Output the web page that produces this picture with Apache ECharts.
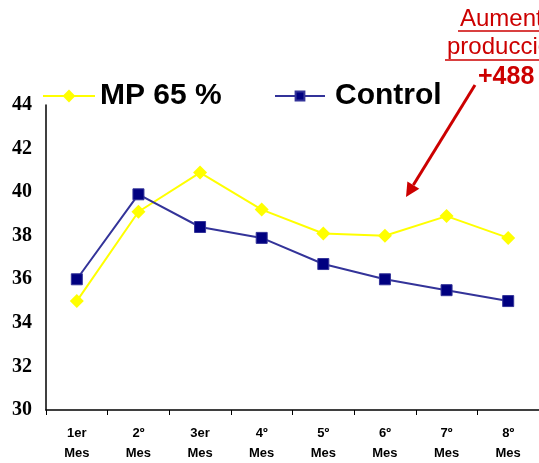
<!DOCTYPE html>
<html><head><meta charset="utf-8">
<script src="https://cdn.jsdelivr.net/npm/echarts@6/dist/echarts.min.js"></script>
<style>html,body{margin:0;padding:0;background:#fff}#c{width:539px;height:463px}</style>
</head><body><div id="c"></div>
<script>
const categories = ['1er\nMes','2º\nMes','3er\nMes','4º\nMes','5º\nMes','6º\nMes','7º\nMes','8º\nMes'];
const mp65 = [35.0, 39.1, 40.9, 39.2, 38.1, 38.0, 38.9, 37.9];
const control = [36.0, 39.9, 38.4, 37.9, 36.7, 36.0, 35.5, 35.0];
const yTicks = [30, 32, 34, 36, 38, 40, 42, 44];

const chart = echarts.init(document.getElementById('c'), null, {renderer:'canvas'});
const tip = [406,197], start = [475,85];
const dx = tip[0]-start[0], dy = tip[1]-start[1], L = Math.hypot(dx,dy);
const ux = dx/L, uy = dy/L, hl = 14, hw = 7;
const bc = [tip[0]-hl*ux, tip[1]-hl*uy];
chart.setOption({
  animation:false,
  grid:{left:46, right:-3, top:105, bottom:51},
  legend:[
    {data:['MP 65 %'], left:37, top:76, padding:5, itemWidth:52, itemHeight:16, itemGap:0,
     textStyle:{fontFamily:'Liberation Sans, Arial', fontWeight:'bold', fontSize:30, color:'#000'}},
    {data:['Control'], left:269, top:76, padding:5, itemWidth:50, itemHeight:11, itemGap:0,
     textStyle:{fontFamily:'Liberation Sans, Arial', fontWeight:'bold', fontSize:30, color:'#000', padding:[0,0,0,5]}}
  ],
  xAxis:{type:'category', data:categories, boundaryGap:true,
    axisLine:{lineStyle:{color:'#000', width:1.5}},
    axisTick:{show:true, length:5, lineStyle:{color:'#000'}},
    axisLabel:{fontFamily:'Liberation Sans, Arial', fontWeight:'bold', fontSize:13, color:'#000', lineHeight:20, margin:13}},
  yAxis:{type:'value', min:30, max:44, interval:2,
    axisLine:{show:true, lineStyle:{color:'#000', width:1.5}},
    axisTick:{show:false}, splitLine:{show:false},
    axisLabel:{fontFamily:'Liberation Serif, Times New Roman', fontWeight:'bold', fontSize:20, color:'#000', margin:14,
      padding:[5,0,0,0],
      formatter:v=>yTicks.includes(v)?String(v):''}},
  series:[
    {name:'MP 65 %', type:'line', data:mp65, symbol:'diamond', symbolSize:14,
     lineStyle:{color:'#FFFF00', width:2}, itemStyle:{color:'#FFFF00'}},
    {name:'Control', type:'line', data:control, symbol:'rect', symbolSize:11,
     lineStyle:{color:'#333399', width:2}, itemStyle:{color:'#000080', borderColor:'#333399', borderWidth:1}}
  ],
  graphic:[
    {type:'text', left:460, top:7, style:{text:'Aumento de', fontFamily:'Liberation Sans, Arial', fontSize:24, fill:'#CC0000'}},
    {type:'line', shape:{x1:458, y1:31, x2:539, y2:31}, style:{stroke:'#CC0000', lineWidth:1.5}},
    {type:'text', left:447, top:35, style:{text:'producción', fontFamily:'Liberation Sans, Arial', fontSize:24, fill:'#CC0000'}},
    {type:'line', shape:{x1:445, y1:60, x2:539, y2:60}, style:{stroke:'#CC0000', lineWidth:1.5}},
    {type:'text', left:478, top:65, style:{text:'+488', fontFamily:'Liberation Sans, Arial', fontWeight:'bold', fontSize:25, fill:'#CC0000'}},
    {type:'line', shape:{x1:start[0], y1:start[1], x2:bc[0], y2:bc[1]}, style:{stroke:'#CC0000', lineWidth:3}},
    {type:'polygon', shape:{points:[tip,[bc[0]+hw*(-uy), bc[1]+hw*ux],[bc[0]-hw*(-uy), bc[1]-hw*ux]]}, style:{fill:'#CC0000'}}
  ]
});
</script></body></html>
